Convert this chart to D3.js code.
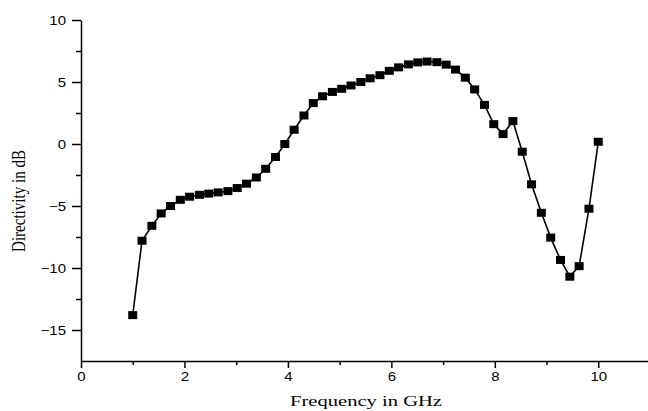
<!DOCTYPE html>
<html>
<head>
<meta charset="utf-8">
<script src="https://cdn.jsdelivr.net/npm/d3@7"></script>
<style>
  body { margin: 0; background: #fff; }
  svg { display: block; }
</style>
</head>
<body>
<svg id="chart"></svg>
<script>
var width = 648;
var height = 411;

// frequency (GHz) and directivity (dB)
var freq = [1.00, 1.18, 1.37, 1.55, 1.73, 1.92, 2.10, 2.29, 2.47, 2.65,
            2.84, 3.02, 3.20, 3.39, 3.57, 3.76, 3.94, 4.12, 4.31, 4.49,
            4.67, 4.86, 5.04, 5.22, 5.41, 5.59, 5.78, 5.96, 6.14, 6.33,
            6.51, 6.69, 6.88, 7.06, 7.24, 7.43, 7.61, 7.80, 7.98, 8.16,
            8.35, 8.53, 8.71, 8.90, 9.08, 9.27, 9.45, 9.63, 9.82, 10.00];
var directivity = [-13.8, -7.8, -6.6, -5.6, -5.0, -4.5, -4.25, -4.1, -4.0, -3.9,
                   -3.8, -3.55, -3.2, -2.7, -2.0, -1.05, 0.0, 1.15, 2.3, 3.3,
                   3.85, 4.2, 4.45, 4.72, 5.0, 5.3, 5.55, 5.9, 6.18, 6.42,
                   6.58, 6.65, 6.6, 6.4, 6.0, 5.35, 4.4, 3.15, 1.6, 0.8,
                   1.85, -0.62, -3.25, -5.55, -7.55, -9.35, -10.7, -9.85, -5.22, 0.18];

var xTicks = [0, 2, 4, 6, 8, 10];
var xMinor = [1, 3, 5, 7, 9];
var yTicks = [-15, -10, -5, 0, 5, 10];
var yMinor = [-12.5, -7.5, -2.5, 2.5, 7.5];

var svg = d3.select("#chart")
  .attr("width", width)
  .attr("height", height);

var x = d3.scaleLinear().domain([0, 11]).range([81, 650]);
var y = d3.scaleLinear().domain([-17.5, 10]).range([361, 20]);

// the original picture is stretched sideways, so the glyphs are too
var stretch = 1.2;

////////////////////////////////////////////////////////////////////////////////
//                                                                       Axes //
////////////////////////////////////////////////////////////////////////////////

var xAxis = svg.append("g")
  .attr("transform", "translate(0," + y(-17.5) + ")")
  .call(d3.axisBottom(x).tickValues(xTicks).tickSize(7).tickSizeOuter(0).tickPadding(4));
svg.append("g")
  .attr("transform", "translate(0," + y(-17.5) + ")")
  .call(d3.axisBottom(x).tickValues(xMinor).tickSize(4).tickSizeOuter(0).tickFormat(""))
  .select(".domain").remove();

var yAxis = svg.append("g")
  .attr("transform", "translate(" + x(0) + ",0)")
  .call(d3.axisLeft(y).tickValues(yTicks).tickSize(9).tickSizeOuter(0).tickPadding(6));
svg.append("g")
  .attr("transform", "translate(" + x(0) + ",0)")
  .call(d3.axisLeft(y).tickValues(yMinor).tickSize(5).tickSizeOuter(0).tickFormat(""))
  .select(".domain").remove();

svg.selectAll(".domain, .tick line")
  .attr("stroke", "#000")
  .attr("stroke-width", 1.5);
svg.selectAll(".tick text")
  .attr("fill", "#000")
  .style("font-family", "'Liberation Sans', Arial, sans-serif")
  .style("font-size", "12.5px");

xAxis.selectAll(".tick text")
  .attr("transform", "scale(" + stretch + ",1)");
yAxis.selectAll(".tick text")
  .attr("x", 0)
  .attr("transform", "translate(-15,0) scale(" + stretch + ",1)");

// axis titles
svg.append("text")
  .attr("x", 366)
  .attr("y", 406)
  .attr("text-anchor", "middle")
  .attr("textLength", 152)
  .attr("lengthAdjust", "spacingAndGlyphs")
  .style("font-family", "'Liberation Serif', 'Times New Roman', serif")
  .style("font-size", "15px")
  .text("Frequency in GHz");

svg.append("text")
  .attr("transform", "translate(25,201) scale(1.28,1) rotate(-90)")
  .attr("text-anchor", "middle")
  .attr("textLength", 102)
  .attr("lengthAdjust", "spacingAndGlyphs")
  .style("font-family", "'Liberation Serif', 'Times New Roman', serif")
  .style("font-size", "15px")
  .text("Directivity in dB");

////////////////////////////////////////////////////////////////////////////////
//                                                           Line and markers //
////////////////////////////////////////////////////////////////////////////////

var points = freq.map(function(f, i) { return [f, directivity[i]]; });

var line = d3.line()
  .x(function(d) { return x(d[0]); })
  .y(function(d) { return y(d[1]); });

svg.append("path")
  .datum(points)
  .attr("d", line)
  .attr("fill", "none")
  .attr("stroke", "#000")
  .attr("stroke-width", 1.6);

svg.selectAll("rect.marker")
  .data(points)
  .enter().append("rect")
  .attr("class", "marker")
  .attr("x", function(d) { return x(d[0]) - 4.5; })
  .attr("y", function(d) { return y(d[1]) - 4; })
  .attr("width", 9)
  .attr("height", 8)
  .attr("fill", "#000");
</script>
</body>
</html>
